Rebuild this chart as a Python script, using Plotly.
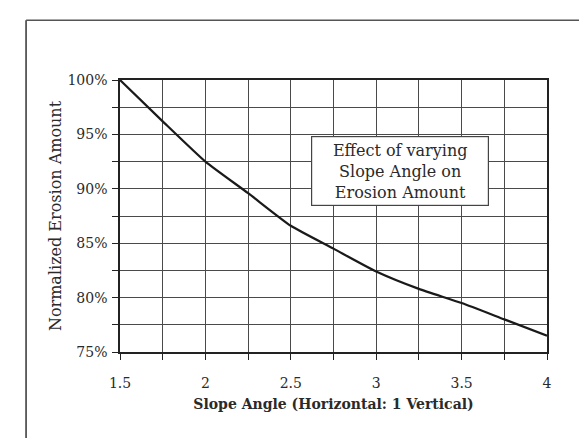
import plotly.graph_objects as go

# Slope angle (horizontal : 1 vertical) vs normalized erosion amount (%)
slope_angle = [1.5, 1.75, 2.0, 2.25, 2.5, 2.75, 3.0, 3.25, 3.5, 3.75, 4.0]
erosion_pct = [100, 96.2, 92.5, 89.6, 86.6, 84.5, 82.4, 80.8, 79.5, 78.0, 76.5]

x_ticks = [1.5, 1.75, 2, 2.25, 2.5, 2.75, 3, 3.25, 3.5, 3.75, 4]
x_labels = ['1.5', '', '2', '', '2.5', '', '3', '', '3.5', '', '4']
y_ticks = [75, 77.5, 80, 82.5, 85, 87.5, 90, 92.5, 95, 97.5, 100]
y_labels = ['75%', '', '80%', '', '85%', '', '90%', '', '95%', '', '100%']

FONT = 'DejaVu Serif'
INK = '#2a2a2a'
GRID = '#4a4a4a'

fig = go.Figure()

fig.add_trace(go.Scatter(
    x=slope_angle,
    y=erosion_pct,
    mode='lines',
    line=dict(color='#1a1a1a', width=2.2, shape='spline', smoothing=0.5),
    showlegend=False
))

fig.update_xaxes(
    range=[1.5, 4],
    tickvals=x_ticks,
    ticktext=x_labels,
    showgrid=True, gridcolor=GRID, gridwidth=1.3,
    showline=True, linecolor='#222', linewidth=1.5, mirror=True,
    ticks='outside', ticklen=6, tickcolor='#222',
    ticklabelstandoff=11,
    tickfont=dict(family=FONT, size=14, color=INK),
    title=dict(text='<b>Slope Angle (Horizontal: 1 Vertical)</b>',
               font=dict(family=FONT, size=14, color=INK), standoff=10),
    zeroline=False
)
fig.update_yaxes(
    range=[75, 100],
    tickvals=y_ticks,
    ticktext=y_labels,
    showgrid=True, gridcolor=GRID, gridwidth=1.3,
    showline=True, linecolor='#222', linewidth=1.5, mirror=True,
    ticks='outside', ticklen=6, tickcolor='#222',
    ticklabelstandoff=2,
    tickfont=dict(family=FONT, size=14, color=INK),
    title=dict(text='Normalized Erosion Amount',
               font=dict(family=FONT, size=16, color=INK), standoff=2),
    zeroline=False
)

fig.add_annotation(
    xref='paper', yref='paper', x=0.656, y=0.794,
    text='Effect of varying<br>Slope Angle on<br>Erosion Amount',
    showarrow=False,
    font=dict(family=FONT, size=16, color=INK),
    width=172, height=64,
    bgcolor='white', bordercolor='#444', borderwidth=1.2, borderpad=2,
    align='center'
)

# scanned page frame (left and top edges)
fig.add_shape(type='line', xref='paper', yref='paper',
              x0=-0.22, x1=-0.22, y0=-0.35, y1=1.22,
              line=dict(color='#333', width=1.5))
fig.add_shape(type='line', xref='paper', yref='paper',
              x0=-0.22, x1=1.12, y0=1.22, y1=1.22,
              line=dict(color='#555', width=1.5))

fig.update_layout(
    width=587, height=438,
    margin=dict(l=112, r=48, t=72, b=94),
    plot_bgcolor='white', paper_bgcolor='white',
    font=dict(family=FONT)
)

fig.write_html("out.html")
